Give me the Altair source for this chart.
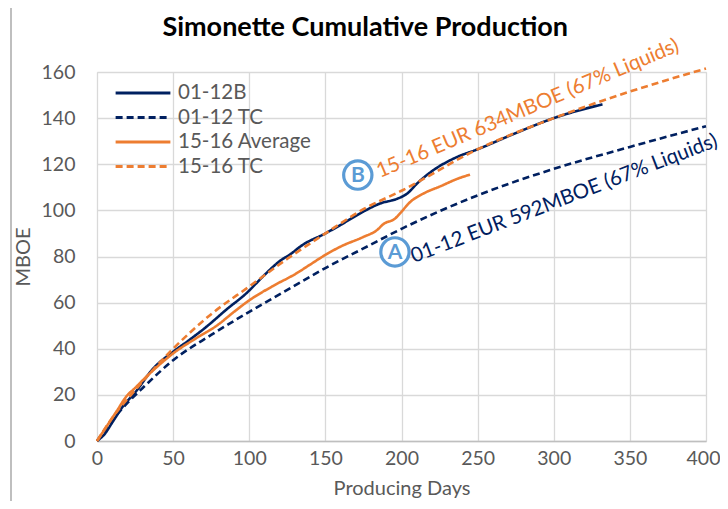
import altair as alt
import pandas as pd

# ---------------- data ----------------
series_names = ["01-12B", "01-12 TC", "15-16 Average", "15-16 TC"]
series_colors = ["#002060", "#002060", "#ED7D31", "#ED7D31"]
series_dashes = [[1, 0], [7, 4], [1, 0], [7, 4]]

b0112_days = [0, 5, 10, 17, 25, 37, 50, 60, 72, 85, 98, 110, 120, 127, 135, 150, 160, 175, 186, 197, 204, 210, 220, 236, 250, 275, 300, 332]
b0112_vals = [0, 3, 8, 15, 21, 31.5, 38.7, 43.5, 49.6, 57, 64, 72, 78, 81, 85, 90, 93.7, 99.5, 103, 105, 107.4, 111.5, 117, 123, 126.5, 133.5, 140, 146]

tc0112_days = [0, 10, 20, 30, 50, 75, 100, 125, 150, 175, 200, 250, 300, 350, 400]
tc0112_vals = [0, 9, 16.5, 23, 35, 46, 56, 65.5, 75, 83.5, 92, 106.5, 118, 127.5, 136.5]

avg1516_days = [0, 3, 8, 13, 19.5, 25, 32.6, 40, 50, 65, 78.6, 90, 100, 115, 131, 140, 150, 160, 175, 184, 188, 196, 199, 206, 215, 225, 238, 245]
avg1516_vals = [0, 3, 8, 13, 19.5, 23, 28, 32.5, 38, 44.5, 50, 56, 61, 67, 72.7, 76.5, 80.7, 84.3, 88.5, 91.5, 94, 96.6, 98.7, 103.8, 107.5, 110.3, 114, 115.5]

tc1516_days = [0, 10, 25, 50, 75, 100, 125, 150, 175, 200, 250, 300, 350, 400]
tc1516_vals = [0, 10, 22, 40, 55, 67, 79, 90, 100.5, 108.5, 126.5, 140, 151.5, 161.5]

x_ticks = [0, 50, 100, 150, 200, 250, 300, 350, 400]
y_ticks = [0, 20, 40, 60, 80, 100, 120, 140, 160]

note_texts = ["15-16 EUR 634MBOE (67% Liquids)", "01-12 EUR 592MBOE (67% Liquids)"]
note_days = [185.8, 208.2]
note_vals = [114.0, 77.2]
note_colors = ["#ED7D31", "#002060"]
note_angles = [337, 339]

badge_letters = ["A", "B"]
badge_days = [195.7, 171.3]
badge_vals = [82.0, 115.3]

# ---------------- build table ----------------
rows = []
for name, ds, vs in [
    (series_names[0], b0112_days, b0112_vals),
    (series_names[1], tc0112_days, tc0112_vals),
    (series_names[2], avg1516_days, avg1516_vals),
    (series_names[3], tc1516_days, tc1516_vals),
]:
    for i, (d, v) in enumerate(zip(ds, vs)):
        rows.append({"series": name, "day": d, "mboe": v, "order": i})
df = pd.DataFrame(rows)

notes = pd.DataFrame({"text": note_texts, "day": note_days, "mboe": note_vals,
                      "color": note_colors, "angle": note_angles})
badges = pd.DataFrame({"letter": badge_letters, "day": badge_days, "mboe": badge_vals})

FONT = "Lato"
GREY = "#595959"

x_scale = alt.Scale(domain=[0, 400], nice=False)
y_scale = alt.Scale(domain=[0, 160], nice=False)

x_enc = alt.X("day:Q", scale=x_scale,
              axis=alt.Axis(values=x_ticks, title="Producing Days", tickSize=0,
                            labelPadding=8, labelFontSize=19.5, labelColor=GREY,
                            labelFont=FONT, labelFlush=False,
                            labelOffset={"condition": {"test": "datum.value == 400", "value": -3}, "value": 0},
                            titleFont=FONT, titleFontSize=20,
                            titleColor=GREY, titleFontWeight="normal", titlePadding=11,
                            domainColor="#BFBFBF", domainWidth=1.5,
                            gridColor="#D9D9D9", gridWidth=1.3))
y_enc = alt.Y("mboe:Q", scale=y_scale,
              axis=alt.Axis(values=y_ticks, title="MBOE", tickSize=0,
                            labelPadding=22, labelFontSize=19.5, labelColor=GREY,
                            labelFont=FONT, labelFlush=False, titleFont=FONT, titleFontSize=20,
                            titleColor=GREY, titleFontWeight="normal", titlePadding=8,
                            domain=False, gridColor="#D9D9D9", gridWidth=1.3))

legend_kw = dict(title=None, orient="none", legendX=17, legendY=11, padding=0,
                 symbolType="stroke", symbolSize=3000, symbolStrokeWidth=3,
                 labelFontSize=20.5, labelColor=GREY, labelFont=FONT, labelOffset=6,
                 clipHeight=20, rowPadding=3.5)

lines = alt.Chart(df).mark_line(strokeWidth=2.6, interpolate="monotone").encode(
    x=x_enc,
    y=y_enc,
    color=alt.Color("series:N",
                    scale=alt.Scale(domain=series_names, range=series_colors),
                    legend=alt.Legend(**legend_kw)),
    strokeDash=alt.StrokeDash("series:N",
                              scale=alt.Scale(domain=series_names, range=series_dashes),
                              legend=alt.Legend(**legend_kw)),
    order="order:Q",
    detail="series:N",
)

note_layer = alt.Chart(notes).mark_text(align="left", baseline="alphabetic",
                                        font=FONT, fontSize=20.5).encode(
    x=alt.X("day:Q", scale=x_scale),
    y=alt.Y("mboe:Q", scale=y_scale),
    text="text:N",
    color=alt.Color("color:N", scale=None),
    angle=alt.Angle("angle:Q", scale=None),
)

badge_circles = alt.Chart(badges).mark_point(shape="circle", filled=True, size=800,
                                              fill="white", stroke="#5B9BD5",
                                              strokeWidth=3.2, opacity=1).encode(
    x=alt.X("day:Q", scale=x_scale),
    y=alt.Y("mboe:Q", scale=y_scale),
)
badge_text = alt.Chart(badges).mark_text(font=FONT, fontSize=21, fontWeight="bold",
                                         color="#5B9BD5", baseline="middle",
                                         align="center", dy=1).encode(
    x=alt.X("day:Q", scale=x_scale),
    y=alt.Y("mboe:Q", scale=y_scale),
    text="letter:N",
)

frame_left = alt.Chart(pd.DataFrame({"k": [0]})).mark_rule(color="#BFBFBF", strokeWidth=2).encode(
    x=alt.value(-86), y=alt.value(-72), y2=alt.value(440))

chart = alt.layer(lines, note_layer, badge_circles, badge_text, frame_left).properties(
    width=609, height=369,
    title=alt.TitleParams("Simonette Cumulative Production", font=FONT, fontSize=27,
                          fontWeight="bold", color="#000000", anchor="middle",
                          frame="bounds", offset=0, dy=43),
    autosize=alt.AutoSizeParams(type="none"),
    padding={"left": 89, "top": 64, "right": 14, "bottom": 60},
).configure_view(stroke=None).configure(background="white")

chart.save("out.html", embed_options={"renderer": "svg", "actions": False})
